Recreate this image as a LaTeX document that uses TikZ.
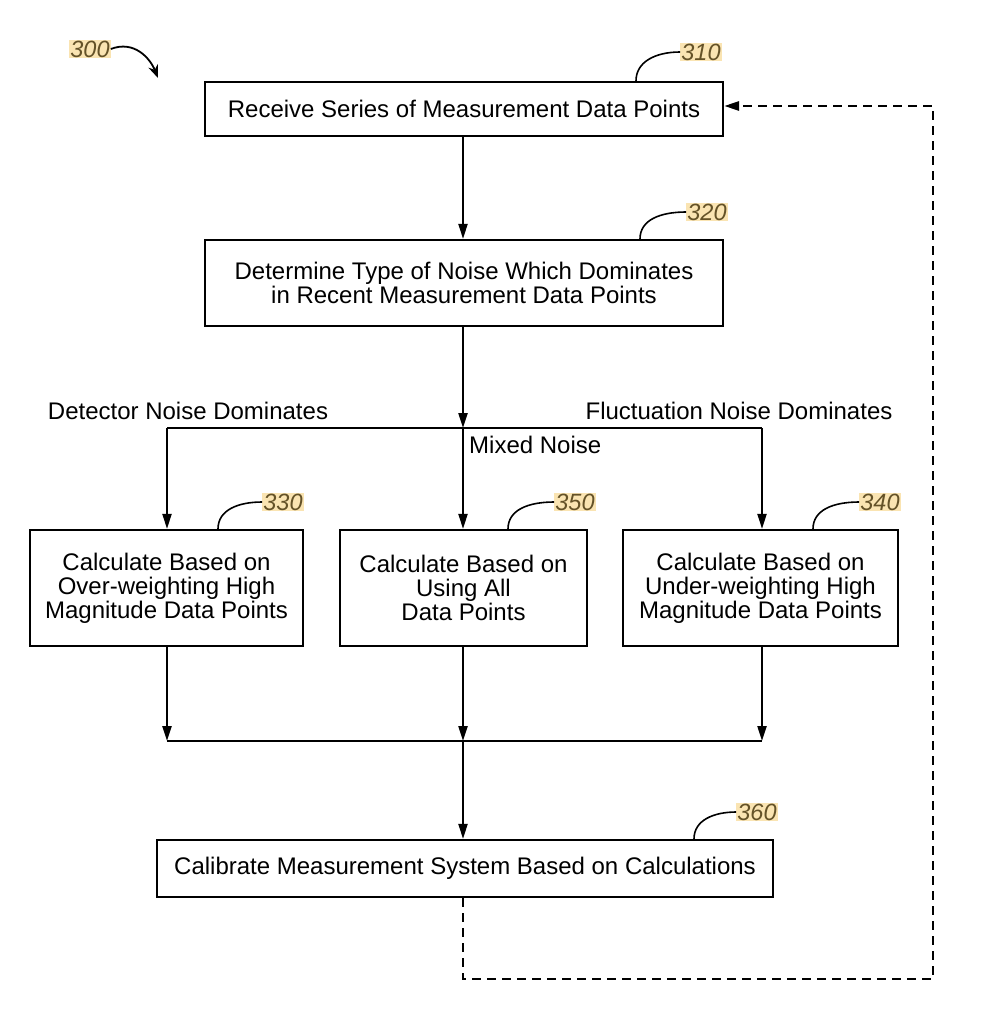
\documentclass[tikz,border=0pt]{standalone}
\usepackage{fontspec}
\setmainfont{Liberation Sans}
\usetikzlibrary{arrows.meta}
\definecolor{lblbg}{RGB}{250,228,178}
\definecolor{lbltx}{RGB}{100,82,40}
\begin{document}
\begin{tikzpicture}[x=1pt,y=-1pt,
  box/.style={draw, line width=2.2pt, inner sep=0pt, align=center, font=\fontsize{24}{24}\selectfont},
  lbl/.style={font=\fontsize{23.5}{23.5}\selectfont\itshape, text=lbltx, fill=lblbg, inner sep=1pt},
  txt/.style={font=\fontsize{24}{24}\selectfont, inner sep=0pt},
  arr/.style={line width=2.2pt, -{Triangle[length=15pt,width=9pt]}},
  ln/.style={line width=2.2pt},
  ldr/.style={line width=1.6pt},
  dsh/.style={line width=2.6pt, dash pattern=on 9pt off 6pt}
]
\useasboundingbox (0,0) rectangle (983,1024);

% boxes
\node[box, minimum width=518pt, minimum height=54pt] (b310) at (464,109) {Receive Series of Measurement Data Points};
\node[box, minimum width=518pt, minimum height=86pt] (b320) at (464,283) {Determine Type of Noise Which Dominates\\in Recent Measurement Data Points};
\node[box, minimum width=273pt, minimum height=116pt] (b330) at (166.5,588) {Calculate Based on\\Over-weighting High\\Magnitude Data Points};
\node[box, minimum width=247pt, minimum height=116pt] (b350) at (463.5,588) {Calculate Based on\\Using All\\Data Points};
\node[box, minimum width=616pt, minimum height=57pt] (b360) at (465,868.5) {Calibrate Measurement System Based on Calculations};
\node[box, minimum width=275pt, minimum height=116pt] (b340) at (760.5,588) {Calculate Based on\\Under-weighting High\\Magnitude Data Points};

% branch labels
\node[txt] (tdet) at (188,411) {Detector Noise Dominates};
\node[txt] (tflu) at (739,411) {Fluctuation Noise Dominates};
\node[txt, anchor=west] (tmix) at (469,445) {Mixed Noise};

% junction coordinates
\coordinate (j1) at (463,428);
\coordinate (jl) at (167,428);
\coordinate (jr) at (762,428);
\coordinate (k1) at (463,741);
\coordinate (kl) at (167,741);
\coordinate (kr) at (762,741);

% main flow
\draw[arr] (b310.south -| j1) -- (b320.north -| j1);
\draw[arr] (b320.south -| j1) -- (j1);
\draw[ln] (jl) -- (jr);
\draw[arr] (jl) -- (b330.north -| jl);
\draw[arr] (j1) -- (b350.north -| j1);
\draw[arr] (jr) -- (b340.north -| jr);
\draw[arr] (b330.south -| kl) -- (kl);
\draw[arr] (b350.south -| k1) -- (k1);
\draw[arr] (b340.south -| kr) -- (kr);
\draw[ln] (kl) -- (kr);
\draw[arr] (k1) -- (b360.north -| k1);

% dashed feedback
\coordinate (d1) at (463,979);
\coordinate (d2) at (933,979);
\coordinate (d3) at (933,106);
\draw[dsh, -{Triangle[length=15pt,width=9pt]}] (b360.south -| d1) -- (d1) -- (d2) -- (d3) -- (b310.east |- d3);

% reference labels
\node[lbl] (l300) at (90,49) {300};
\node[lbl] (l310) at (701,52) {310};
\node[lbl] (l320) at (707,212) {320};
\node[lbl] (l330) at (283,502) {330};
\node[lbl] (l350) at (575,502) {350};
\node[lbl] (l340) at (880,502) {340};
\node[lbl] (l360) at (757,812) {360};

\coordinate (a300) at (158,78);
\draw[line width=1.8pt, -{Stealth[length=13pt,width=10pt]}] (l300.east) .. controls (134,40) and (150,58) .. (a300);

\draw[ldr] (b310.north -| 636,0) .. controls (636,62) and (655,52) .. (l310.west);
\draw[ldr] (b320.north -| 640,0) .. controls (640,220) and (660,212) .. (l320.west);
\draw[ldr] (b330.north -| 218,0) .. controls (218,510) and (238,502) .. (l330.west);
\draw[ldr] (b350.north -| 508,0) .. controls (508,510) and (528,502) .. (l350.west);
\draw[ldr] (b340.north -| 813,0) .. controls (813,510) and (833,502) .. (l340.west);
\draw[ldr] (b360.north -| 694,0) .. controls (694,820) and (714,812) .. (l360.west);
\end{tikzpicture}
\end{document}
